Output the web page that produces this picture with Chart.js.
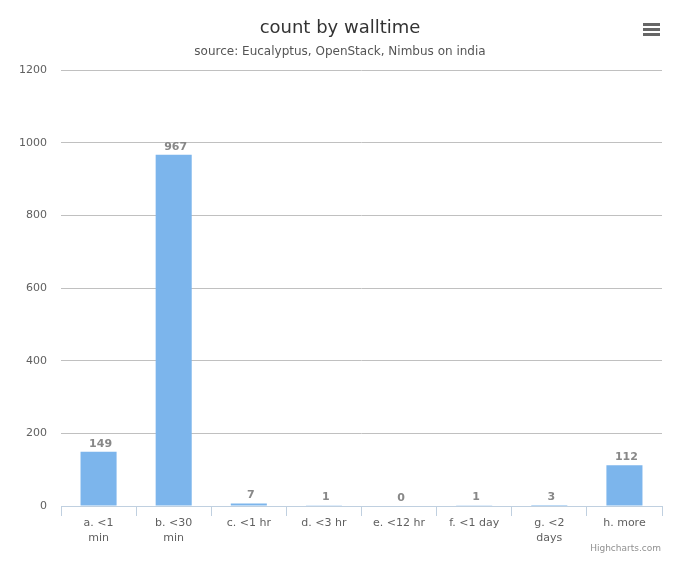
<!DOCTYPE html>
<html>
<head>
<meta charset="utf-8">
<script src="https://cdn.jsdelivr.net/npm/chart.js@4.4.0/dist/chart.umd.min.js"></script>
<style>
  body { margin: 0; background: #fff; }
  #wrap { width: 680px; height: 566px; position: relative; }
</style>
</head>
<body>
<div id="wrap"><canvas id="chart_walltime" width="680" height="566"></canvas></div>
<script>
// walltime buckets, wrapped the way the axis shows them
var categories = [['a. <1', 'min'], ['b. <30', 'min'], 'c. <1 hr', 'd. <3 hr', 'e. <12 hr', 'f. <1 day', ['g. <2', 'days'], 'h. more'];
var counts = [149, 967, 7, 1, 0, 1, 3, 112];
var yTicks = [0, 200, 400, 600, 800, 1000, 1200];

var fontFamily = '"DejaVu Sans", "Lucida Grande", Verdana, sans-serif';

// value above each column
var valueLabels = {
    id: 'valueLabels',
    afterDatasetsDraw: function(chart) {
        var ctx = chart.ctx;
        var meta = chart.getDatasetMeta(0);
        ctx.save();
        ctx.font = 'bold 11px ' + fontFamily;
        ctx.fillStyle = '#888888';
        ctx.textAlign = 'center';
        ctx.textBaseline = 'middle';
        meta.data.forEach(function(bar, i) {
            ctx.fillText(String(counts[i]), bar.x + 2, bar.y - 8);
        });
        ctx.restore();
    }
};

// credits + export menu icon
var extras = {
    id: 'extras',
    afterDraw: function(chart) {
        var ctx = chart.ctx;
        ctx.save();
        ctx.font = '9px ' + fontFamily;
        ctx.fillStyle = '#909090';
        ctx.textAlign = 'right';
        ctx.textBaseline = 'middle';
        ctx.fillText('Highcharts.com', 661, 549);
        ctx.fillStyle = '#666666';
        [23, 28, 33].forEach(function(y) {
            ctx.fillRect(643, y, 17, 3);
        });
        ctx.restore();
    }
};

var chart_walltime = new Chart(document.getElementById('chart_walltime'), {
    type: 'bar',
    data: {
        labels: categories,
        datasets: [{
            label: 'count',
            data: counts,
            backgroundColor: '#7cb5ec',
            borderWidth: 0,
            barPercentage: 0.48,
            categoryPercentage: 1.0
        }]
    },
    options: {
        responsive: false,
        animation: false,
        layout: {
            padding: 0
        },
        plugins: {
            legend: { display: false },
            tooltip: { enabled: false },
            title: {
                display: true,
                text: 'count by walltime',
                color: '#333333',
                font: { family: fontFamily, size: 18, weight: 'normal' },
                padding: { top: 18, bottom: 0 }
            },
            subtitle: {
                display: true,
                text: 'source: Eucalyptus, OpenStack, Nimbus on india',
                color: '#555555',
                font: { family: fontFamily, size: 12 },
                padding: { top: 5, bottom: 11 }
            }
        },
        scales: {
            x: {
                offset: true,
                grid: {
                    display: true,
                    offset: true,
                    drawOnChartArea: false,
                    drawTicks: true,
                    tickLength: 10,
                    color: '#C0D0E0'
                },
                border: { display: true, color: '#C0D0E0' },
                ticks: {
                    color: '#606060',
                    font: { family: fontFamily, size: 11, lineHeight: 1.35 },
                    padding: 0,
                    maxRotation: 0,
                    autoSkip: false
                },
                afterFit: function(scale) { scale.height = 60; }
            },
            y: {
                min: 0,
                max: 1200,
                afterBuildTicks: function(scale) {
                    scale.ticks = yTicks.map(function(v) { return { value: v }; });
                },
                grid: {
                    color: '#C0C0C0',
                    drawTicks: false
                },
                border: { display: false },
                ticks: {
                    color: '#606060',
                    font: { family: fontFamily, size: 11 },
                    padding: 14,
                    callback: function(v) { return String(v); }
                },
                afterFit: function(scale) { scale.width = 61; }
            },
            // empty right margin so the titles stay centred on the page
            yRight: {
                position: 'right',
                grid: { display: false, drawTicks: false },
                border: { display: false },
                ticks: { display: false },
                afterFit: function(scale) { scale.width = 18; }
            }
        }
    },
    plugins: [valueLabels, extras]
});
</script>
</body>
</html>
